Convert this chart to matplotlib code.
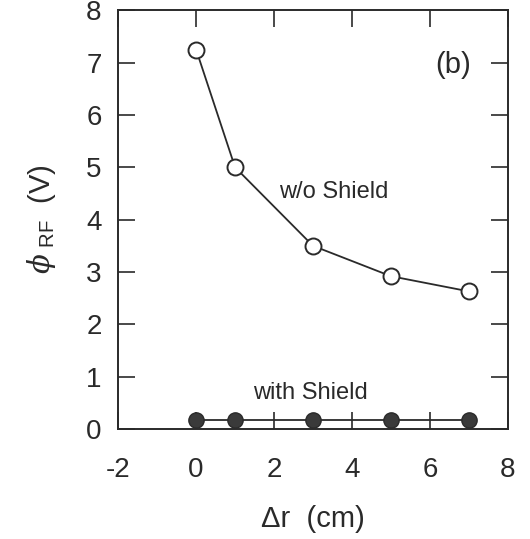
import matplotlib
matplotlib.use("Agg")
import matplotlib.pyplot as plt

plt.rcParams['font.family'] = ['Liberation Sans', 'DejaVu Sans']
plt.rcParams['mathtext.fontset'] = 'custom'
plt.rcParams['mathtext.rm'] = 'Liberation Sans'
plt.rcParams['mathtext.it'] = 'DejaVu Serif:italic'
plt.rcParams['axes.unicode_minus'] = False

dr = [0, 1, 3, 5, 7]
phi_without = [7.25, 5.0, 3.5, 2.92, 2.63]
phi_with = [0.17, 0.17, 0.17, 0.17, 0.17]
xticks = [-2, 0, 2, 4, 6, 8]
yticks = [0, 1, 2, 3, 4, 5, 6, 7, 8]

ink = '#2a2a2a'
fig = plt.figure(figsize=(5.30, 5.39), dpi=100)
ax = fig.add_axes([0.223, 0.204, 0.735, 0.777])

ax.plot(dr, phi_without, '-', color=ink, lw=1.3, marker='o', ms=11.5,
        mfc='white', mec=ink, mew=1.4, zorder=3)
ax.plot(dr, phi_with, '-', color=ink, lw=1.3, marker='o', ms=11,
        mfc='#3a3a3a', mec=ink, mew=1.0, zorder=3)

ax.set_xlim(-2, 8)
ax.set_ylim(0, 8)
ax.set_xticks(xticks)
ax.set_yticks(yticks)
ax.tick_params(direction='in', length=12, width=1.2, colors=ink,
               labelsize=20, top=True, right=True)
ax.tick_params(axis='x', pad=20)
ax.tick_params(axis='y', pad=12)
for s in ax.spines.values():
    s.set_linewidth(1.4)
    s.set_color(ink)

ax.text(6.6, 6.95, '(b)', fontsize=21, ha='center', va='center', color=ink)
ax.text(3.54, 4.52, 'w/o Shield', fontsize=17, ha='center', va='center', color=ink)
ax.text(2.93, 0.69, 'with Shield', fontsize=17, ha='center', va='center', color=ink)

ax.set_xlabel('\u0394r  (cm)', fontsize=21, color=ink, labelpad=16)
ax.set_ylabel(r'$\mathit{\phi}_{\ \mathrm{RF}}$  (V)', fontsize=21, color=ink, labelpad=20)

fig.savefig('out.png', dpi=100, facecolor='white')
